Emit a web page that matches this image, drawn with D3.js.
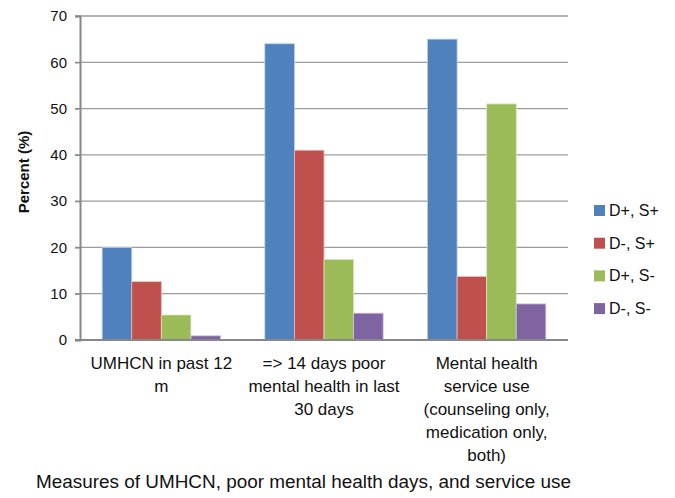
<!DOCTYPE html>
<html><head><meta charset="utf-8">
<script src="https://cdn.jsdelivr.net/npm/d3@7"></script>
<style>body{margin:0;background:#fff}svg{display:block}text{font-family:"Liberation Sans",Arial,sans-serif;fill:#111}</style>
</head><body>
<script>
const categories = [
  ["UMHCN in past 12", "m"],
  ["=> 14 days poor", "mental health in last", "30 days"],
  ["Mental health", "service use", "(counseling only,", "medication only,", "both)"]
];
const seriesNames = ["D+, S+", "D-, S+", "D+, S-", "D-, S-"];
const seriesColors = ["#4F81BD", "#C0504D", "#9BBB59", "#8064A2"];
const seriesStroke = ["#b9cde5", "#e6b9b8", "#d7e4bd", "#ccc1da"];
const values = [
  [20, 64, 65],
  [12.6, 41, 13.7],
  [5.4, 17.4, 51],
  [0.9, 5.8, 7.8]
];
const yTicks = [0, 10, 20, 30, 40, 50, 60, 70];
const yTitle = "Percent (%)";
const xTitle = "Measures of UMHCN, poor mental health days, and service use";

const W = 675, H = 498;
const L = 80, R = 568, T = 16, B = 340;
const svg = d3.select("body").append("svg").attr("width", W).attr("height", H);

const x0 = d3.scaleBand().domain(d3.range(categories.length)).range([L, R]).paddingInner(0).paddingOuter(0);
const x1 = d3.scaleBand().domain(d3.range(seriesNames.length)).range([0, x0.bandwidth()]).paddingInner(0).paddingOuter(0.75);
const y = d3.scaleLinear().domain([0, 70]).range([B, T]);

// gridlines
svg.append("g").selectAll("line").data(yTicks.filter(d => d > 0)).join("line")
  .attr("x1", L - 5).attr("x2", R).attr("y1", d => y(d)).attr("y2", d => y(d))
  .attr("stroke", "#9c9c9c").attr("stroke-width", 1.3);

// y axis
const yAxis = d3.axisLeft(y).tickValues(yTicks).tickSize(5).tickPadding(8).tickFormat(d3.format("d"));
const ga = svg.append("g").attr("transform", `translate(${L},0)`).call(yAxis);
ga.select(".domain").attr("stroke", "#888").attr("stroke-width", 2);
ga.selectAll(".tick line").attr("stroke", "#888").attr("stroke-width", 1.3);
ga.selectAll(".tick text").attr("font-size", 15).attr("font-family", '"Liberation Sans",Arial,sans-serif').attr("fill", "#111");

// bars
const g = svg.append("g");
seriesNames.forEach((s, si) => {
  g.append("g").selectAll("rect").data(values[si]).join("rect")
    .attr("x", (d, ci) => x0(ci) + x1(si))
    .attr("width", x1.bandwidth())
    .attr("y", d => y(d))
    .attr("height", d => y(0) - y(d))
    .attr("fill", seriesColors[si])
    .attr("stroke", seriesStroke[si]).attr("stroke-width", 0.8);
});

// x axis line
svg.append("line").attr("x1", L - 5).attr("x2", R).attr("y1", B).attr("y2", B)
  .attr("stroke", "#888").attr("stroke-width", 2);

// category labels
categories.forEach((lines, ci) => {
  const t = svg.append("text").attr("text-anchor", "middle").attr("font-size", 17);
  lines.forEach((ln, li) => {
    t.append("tspan").attr("x", x0(ci) + x0.bandwidth() / 2).attr("y", 369 + li * 23).text(ln);
  });
});

// titles
svg.append("text").attr("x", 36).attr("y", 488).attr("font-size", 17.5)
  .attr("textLength", 535).attr("lengthAdjust", "spacingAndGlyphs").text(xTitle);
svg.append("text").attr("transform", "translate(29,172) rotate(-90)").attr("text-anchor", "middle")
  .attr("font-size", 15).attr("font-weight", "bold").text(yTitle);

// legend
const lg = svg.append("g");
seriesNames.forEach((s, i) => {
  const yy = 205 + i * 32.7;
  lg.append("rect").attr("x", 594).attr("y", yy).attr("width", 11).attr("height", 11).attr("fill", seriesColors[i]);
  lg.append("text").attr("x", 609).attr("y", yy + 11).attr("font-size", 16).text(s);
});
</script>
</body></html>
